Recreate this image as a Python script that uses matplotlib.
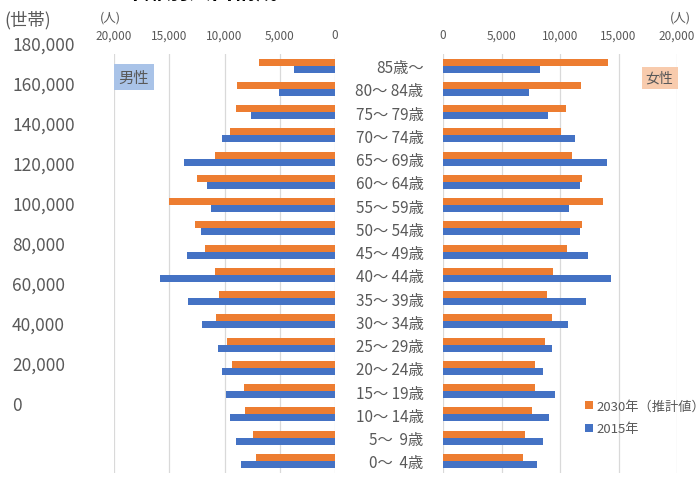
import numpy as np
import matplotlib
matplotlib.use("Agg")
import matplotlib.pyplot as plt

plt.rcParams['font.family'] = ['Noto Sans CJK JP', 'DejaVu Sans']

# 年齢階級（上から）
ages = ["85歳～", "80～ 84歳", "75～ 79歳", "70～ 74歳", "65～ 69歳", "60～ 64歳",
        "55～ 59歳", "50～ 54歳", "45～ 49歳", "40～ 44歳", "35～ 39歳", "30～ 34歳",
        "25～ 29歳", "20～ 24歳", "15～ 19歳", "10～ 14歳", "5～  9歳", "0～  4歳"]

# 男性（人）
male_2030 = [6900, 8900, 9000, 9500, 10900, 12500, 15000, 12700, 11800,
             10900, 10500, 10800, 9800, 9350, 8200, 8100, 7400, 7150]
male_2015 = [3700, 5100, 7600, 10200, 13700, 11600, 11200, 12100, 13400,
             15800, 13300, 12000, 10600, 10200, 9900, 9500, 9000, 8500]
# 女性（人）
female_2030 = [14100, 11800, 10500, 10100, 11000, 11900, 13700, 11900, 10600,
               9400, 8900, 9300, 8700, 7900, 7900, 7600, 7000, 6800]
female_2015 = [8300, 7350, 9000, 11300, 14000, 11700, 10800, 11700, 12400,
               14400, 12200, 10700, 9300, 8550, 9550, 9100, 8550, 8000]

# 世帯軸
hh_ticks = [0, 20000, 40000, 60000, 80000, 100000, 120000, 140000, 160000, 180000]
x_ticks = [0, 5000, 10000, 15000, 20000]

ORANGE = "#ED7D31"
BLUE = "#4472C4"
GRAY = "#595959"
GRID = "#D9D9D9"

W, H = 697, 481
fig = plt.figure(figsize=(W / 100, H / 100), dpi=100)


def box(x0, y0, x1, y1):
    # ピクセル座標 (上原点) -> figure座標
    return [x0 / W, 1 - y1 / H, (x1 - x0) / W, (y1 - y0) / H]


y = np.arange(len(ages))
bh = 0.3

ax_l = fig.add_axes(box(114, 55, 335, 473.5))
ax_r = fig.add_axes(box(443, 55, 677, 473.5))

for ax, v30, v15 in [(ax_l, male_2030, male_2015), (ax_r, female_2030, female_2015)]:
    ax.barh(y - bh / 2, v30, height=bh, color=ORANGE, label="2030年（推計値）", zorder=2)
    ax.barh(y + bh / 2, v15, height=bh, color=BLUE, label="2015年", zorder=2)
    ax.set_ylim(len(ages) - 0.5, -0.5)
    ax.set_xticks(x_ticks)
    ax.set_xticklabels([f"{t:,}" for t in x_ticks])
    ax.xaxis.tick_top()
    ax.tick_params(axis="x", length=0, pad=9, labelsize=8.5, labelcolor=GRAY)
    ax.grid(axis="x", color=GRID, linewidth=0.9, zorder=0)
    for s in ax.spines.values():
        s.set_visible(False)

ax_l.set_xlim(20000, 0)
ax_l.set_yticks([])
ax_r.set_xlim(0, 20000)
ax_r.set_yticks(y)
ax_r.set_yticklabels(ages)
ax_r.tick_params(axis="y", length=0, pad=14, labelsize=11, labelcolor=GRAY)

# 男性 / 女性 ラベル
ax_l.text(0.02, 0.965, "男性", transform=ax_l.transAxes, ha="left", va="top",
          fontsize=11, color=GRAY,
          bbox=dict(boxstyle="square,pad=0.3", fc="#A9C3E8", ec="none"))
ax_r.text(0.985, 0.96, "女性", transform=ax_r.transAxes, ha="right", va="top",
          fontsize=10, color=GRAY,
          bbox=dict(boxstyle="square,pad=0.3", fc="#F8CBAD", ec="none"))

handles, labels = ax_r.get_legend_handles_labels()
fig.legend(handles, labels, loc="upper left", bbox_to_anchor=(578 / W, 1 - 394 / H),
           frameon=False, fontsize=9.5, handlelength=0.6, handleheight=0.6,
           handletextpad=0.3, labelspacing=0.75, borderpad=0, labelcolor=GRAY)

# 世帯軸（左端）
ax_h = fig.add_axes(box(0, 44, 12, 404))
ax_h.set_ylim(0, 180000)
ax_h.set_yticks(hh_ticks)
ax_h.set_yticklabels([f"{t:,}" for t in hh_ticks])
ax_h.yaxis.tick_right()
ax_h.tick_params(axis="y", length=0, pad=0, labelsize=12.5, labelcolor=GRAY)
ax_h.set_xticks([])
ax_h.patch.set_visible(False)
for s in ax_h.spines.values():
    s.set_visible(False)

fig.text(4 / W, 1 - 20 / H, "(世帯)", fontsize=12.5, color=GRAY, ha="left", va="center")
fig.text(100 / W, 1 - 18 / H, "(人)", fontsize=9, color=GRAY, ha="left", va="center")
fig.text(691 / W, 1 - 18 / H, "(人)", fontsize=9, color=GRAY, ha="right", va="center")

# 上端で切れたタイトル（元画像でも上が切れている）
fig.text(200 / W, 1 + 8 / H, "年齢別人口構成", fontsize=16, fontweight="bold",
         color="black", ha="center", va="center")

fig.savefig("out.png", dpi=100)
